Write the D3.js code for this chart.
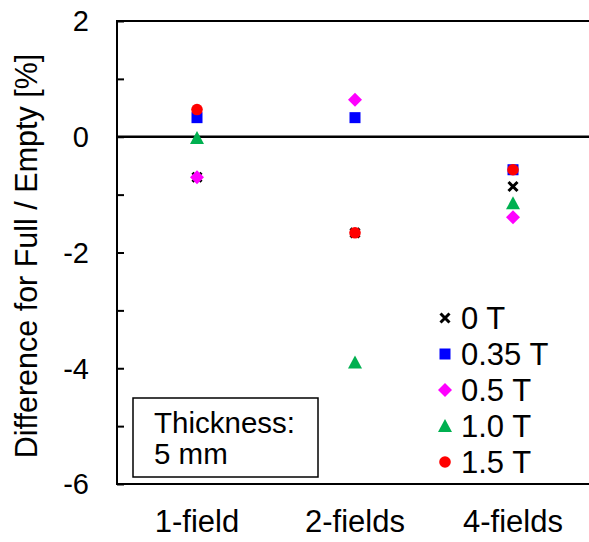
<!DOCTYPE html>
<html>
<head>
<meta charset="utf-8">
<script src="https://cdn.jsdelivr.net/npm/d3@7"></script>
<style>
  body { margin: 0; background: #fff; }
  text { font-family: "Liberation Sans", Arial, sans-serif; fill: #000; }
</style>
</head>
<body>
<div id="container"></div>
<script>
// data we work with
let categories = ["1-field", "2-fields", "4-fields"];
let seriesNames = ["0 T", "0.35 T", "0.5 T", "1.0 T", "1.5 T"];
let values0T   = [-0.70, -1.66, -0.86];
let values035T = [0.33, 0.33, -0.57];
let values05T  = [-0.70, 0.64, -1.39];
let values10T  = [-0.02, -3.90, -1.15];
let values15T  = [0.47, -1.66, -0.57];
let yTicks = [-6, -5, -4, -3, -2, -1, 0, 1, 2];
let yLabels = [-6, -4, -2, 0, 2];
let boxText = ["Thickness:", "5 mm"];

let allValues = [values0T, values035T, values05T, values10T, values15T];
let colors = ["#000000", "#0000ff", "#ff00ff", "#00b050", "#ff0000"];
let shapes = ["cross", "square", "diamond", "triangle", "circle"];

let w = 589;
let h = 542;
let viz = d3.select("#container")
  .append("svg")
    .attr("width", w)
    .attr("height", h)
;

let pLeft = 117, pTop = 21, pBottom = 484, pRight = 589;

let yScale = d3.scaleLinear().domain([-6, 2]).range([pBottom, pTop]);
let xScale = d3.scaleBand()
    .domain(categories)
    .range([pLeft + 1, pLeft + 1 + 3 * 158]);

// marker shapes
function drawMarker(g, shape, color) {
  if (shape == "cross") {
    g.append("path").attr("d", "M-4.5,-4.5L4.5,4.5M-4.5,4.5L4.5,-4.5")
      .attr("stroke", color).attr("stroke-width", 3);
  } else if (shape == "square") {
    g.append("rect").attr("x", -5.5).attr("y", -5.5).attr("width", 11).attr("height", 11)
      .attr("fill", color);
  } else if (shape == "diamond") {
    g.append("path").attr("d", "M0,-7L7,0L0,7L-7,0Z").attr("fill", color);
  } else if (shape == "triangle") {
    g.append("path").attr("d", "M0,-7L7,6L-7,6Z").attr("fill", color);
  } else {
    g.append("circle").attr("r", 5.8).attr("fill", color);
  }
}

// frame lines
viz.append("line").attr("x1", pLeft).attr("x2", pRight).attr("y1", pTop).attr("y2", pTop)
  .attr("stroke", "#000").attr("stroke-width", 2);
viz.append("line").attr("x1", pLeft).attr("x2", pRight).attr("y1", yScale(0)).attr("y2", yScale(0))
  .attr("stroke", "#000").attr("stroke-width", 2.5);

// y axis
let yAxis = d3.axisRight(yScale).tickValues(yTicks).tickSize(7).tickFormat("");
let yAxisGroup = viz.append("g").attr("transform", "translate(" + pLeft + ",0)").call(yAxis);
yAxisGroup.select(".domain").attr("stroke-width", 2).attr("d", "M7," + pTop + "H0V" + pBottom + "H7");
yAxisGroup.selectAll(".tick line").attr("stroke-width", 2);

viz.selectAll(".ylab").data(yLabels).enter()
  .append("text")
    .attr("x", 89)
    .attr("y", d => yScale(d))
    .attr("dy", "0.36em")
    .attr("text-anchor", "end")
    .attr("font-size", 29)
    .text(d => d);

// x axis
let xAxis = d3.axisBottom(xScale).tickSize(0).tickPadding(26);
let xAxisGroup = viz.append("g").attr("transform", "translate(0," + pBottom + ")").call(xAxis);
xAxisGroup.select(".domain").attr("stroke-width", 2).attr("d", "M" + pLeft + ",0H" + pRight);
xAxisGroup.selectAll("text").attr("font-size", 31).attr("font-family", "Liberation Sans, Arial, sans-serif");

// y title
viz.append("text")
  .attr("transform", "translate(37,256) rotate(-90)")
  .attr("text-anchor", "middle")
  .attr("font-size", 30.5)
  .text("Difference for Full / Empty [%]");

// thickness box
viz.append("rect").attr("x", 133).attr("y", 398).attr("width", 185).attr("height", 79)
  .attr("fill", "#fff").attr("stroke", "#000").attr("stroke-width", 1.5);
viz.selectAll(".boxtxt").data(boxText).enter()
  .append("text")
    .attr("x", 154)
    .attr("y", (d, i) => 433 + i * 31)
    .attr("font-size", 29.5)
    .text(d => d);

// points
allValues.forEach(function(vals, si) {
  vals.forEach(function(v, ci) {
    let g = viz.append("g")
      .attr("transform", "translate(" + (xScale(categories[ci]) + xScale.bandwidth() / 2) + "," + yScale(v) + ")");
    drawMarker(g, shapes[si], colors[si]);
  });
});

// legend
seriesNames.forEach(function(name, i) {
  let yy = 318 + i * 36;
  let g = viz.append("g").attr("transform", "translate(445," + yy + ")");
  drawMarker(g, shapes[i], colors[i]);
  viz.append("text").attr("x", 461).attr("y", yy).attr("dy", "0.36em")
    .attr("font-size", 31).text(name);
});
</script>
</body>
</html>
